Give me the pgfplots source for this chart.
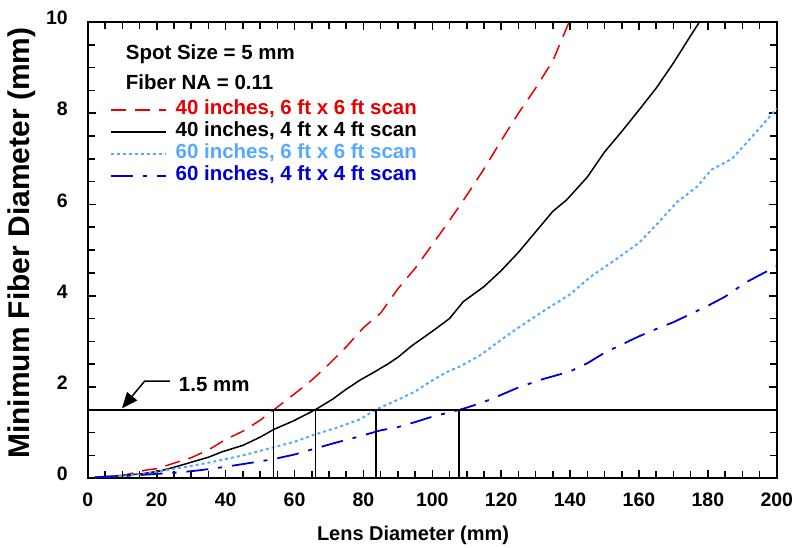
\documentclass[border=0pt]{standalone}
\usepackage{fontspec}
\setmainfont{Liberation Sans}
\usepackage{pgfplots}
\pgfplotsset{compat=1.18}
\usetikzlibrary{arrows.meta}
\definecolor{cred}{RGB}{230,0,0}
\definecolor{clblue}{RGB}{85,170,255}
\definecolor{cblue}{RGB}{0,0,210}
\begin{document}
\begin{tikzpicture}
\begin{axis}[
  at={(0,0)}, anchor=south west,
  scale only axis, width=690bp, height=457bp,
  xmin=0, xmax=200, ymin=0, ymax=10,
  xtick={0,20,...,200}, ytick={0,2,...,10},
  minor x tick num=3, minor y tick num=3,
  tick align=inside, major tick length=8bp, minor tick length=7bp,
  tick style={black, line width=1.6bp},
  axis line style={line width=1.8bp},
  /pgf/number format/assume math mode=true,
  ticklabel style={font=\fontsize{19.5bp}{22bp}\selectfont\bfseries, inner sep=0pt},
  xticklabel style={anchor=base, yshift=-28bp},
  yticklabel style={anchor=east, xshift=-20bp, yshift=4bp},
  every axis x label/.style={at={(axis description cs:0.472,-0.1357)}, anchor=base, font=\fontsize{20bp}{24bp}\selectfont\bfseries},
  every axis y label/.style={at={(axis description cs:-0.0957,0.515)}, anchor=center, rotate=90, font=\fontsize{30bp}{34bp}\selectfont\bfseries},
  xlabel={Lens Diameter (mm)},
  ylabel={Minimum Fiber Diameter (mm)},
  legend style={draw=none, fill=none, at={(0.0319,0.827)}, anchor=north west, inner sep=0pt, outer sep=0pt, column sep=9bp, row sep=4bp,
    nodes={inner sep=0pt, text height=14bp, text depth=4bp}, font=\fontsize{20.5bp}{24bp}\selectfont\bfseries, cells={anchor=west}},
  legend image code/.code={\draw[#1] (0bp,0bp) -- (55bp,0bp);},
]
\addplot[cred, line width=1.5bp, dash pattern=on 15bp off 9bp] coordinates {
(2,0.02)(10,0.06)(17,0.18)(20,0.21)(25,0.33)(30,0.45)(35,0.62)(40,0.85)(45,1.03)(50,1.27)(54,1.5)(60,1.85)(65,2.15)(70,2.5)(75,2.88)(80,3.3)(85,3.62)(90,4.15)(95,4.6)(100,5.12)(105,5.65)(110,6.2)(115,6.78)(120,7.4)(125,8.0)(130,8.55)(135,9.15)(140,10.05)};
\addlegendentry[text=cred]{40 inches, 6 ft x 6 ft scan}
\addplot[black, line width=1.5bp] coordinates {
(2,0.02)(10,0.06)(16,0.1)(21,0.16)(25,0.24)(30,0.35)(35,0.46)(39,0.58)(45,0.72)(50,0.9)(54,1.07)(59.5,1.25)(66,1.5)(71,1.73)(75,1.95)(79,2.15)(83,2.32)(87,2.5)(90,2.65)(94,2.9)(100,3.22)(105,3.5)(109,3.87)(115,4.2)(120,4.55)(125,4.95)(130,5.4)(135,5.85)(139,6.1)(145,6.6)(150,7.15)(155,7.6)(160,8.07)(165,8.55)(170,9.1)(175,9.7)(178,10.05)};
\addlegendentry[text=black]{40 inches, 4 ft x 4 ft scan}
\addplot[clblue, line width=2bp, dash pattern=on 3bp off 3bp] coordinates {
(2,0.02)(10,0.05)(17,0.1)(23,0.18)(30,0.27)(35,0.34)(40,0.42)(45,0.5)(50,0.6)(54,0.68)(60,0.8)(66,0.96)(72,1.1)(79,1.29)(83.5,1.5)(90,1.72)(95,1.9)(99,2.1)(104,2.32)(108,2.45)(114,2.7)(119,2.98)(125,3.3)(133,3.7)(140,4.03)(146,4.42)(153,4.78)(160,5.16)(165,5.55)(171,6.05)(177,6.4)(181,6.76)(187,7.0)(193,7.5)(200,8.1)};
\addlegendentry[text=clblue]{60 inches, 6 ft x 6 ft scan}
\addplot[cblue, line width=1.8bp, dash pattern=on 22bp off 10bp on 4bp off 10bp] coordinates {
(2,0.02)(9,0.04)(17,0.08)(27,0.13)(33,0.18)(39,0.24)(45,0.31)(50,0.37)(54,0.42)(60,0.52)(65,0.63)(72,0.78)(79,0.92)(85,1.05)(90,1.12)(95,1.23)(100,1.35)(108,1.5)(113,1.62)(117,1.73)(125,1.99)(132,2.17)(140,2.34)(145,2.52)(150,2.75)(155,2.93)(160,3.11)(165,3.27)(170,3.42)(175,3.6)(180,3.78)(185,3.98)(191,4.29)(195,4.45)(200,4.65)};
\addlegendentry[text=cblue]{60 inches, 4 ft x 4 ft scan}
\addplot[black, line width=1.5bp, forget plot] coordinates {(0,1.5)(200,1.5)};
\addplot[black, line width=1.5bp, forget plot] coordinates {(53.9,0)(53.9,1.5)};
\addplot[black, line width=1.5bp, forget plot] coordinates {(66.1,0)(66.1,1.5)};
\addplot[black, line width=1.5bp, forget plot] coordinates {(83.6,0)(83.6,1.5)};
\addplot[black, line width=1.5bp, forget plot] coordinates {(107.8,0)(107.8,1.5)};
\node[anchor=base west, inner sep=0pt, font=\fontsize{20.5bp}{24bp}\selectfont\bfseries] at (axis cs:11,9.17) {Spot Size = 5 mm};
\node[anchor=base west, inner sep=0pt, font=\fontsize{20.5bp}{24bp}\selectfont\bfseries] at (axis cs:11,8.51) {Fiber NA = 0.11};
\node[anchor=base west, inner sep=0pt, font=\fontsize{20.5bp}{24bp}\selectfont\bfseries] at (axis cs:26.4,1.90) {1.5 mm};
\draw[line width=1.5bp, -{Triangle[length=16bp,width=13bp]}] (axis cs:23.8,2.13) -- (axis cs:16.5,2.13) -- (axis cs:9.9,1.53);
\end{axis}
\useasboundingbox (-88bp,-69bp) rectangle (705bp,479bp);
\end{tikzpicture}
\end{document}
